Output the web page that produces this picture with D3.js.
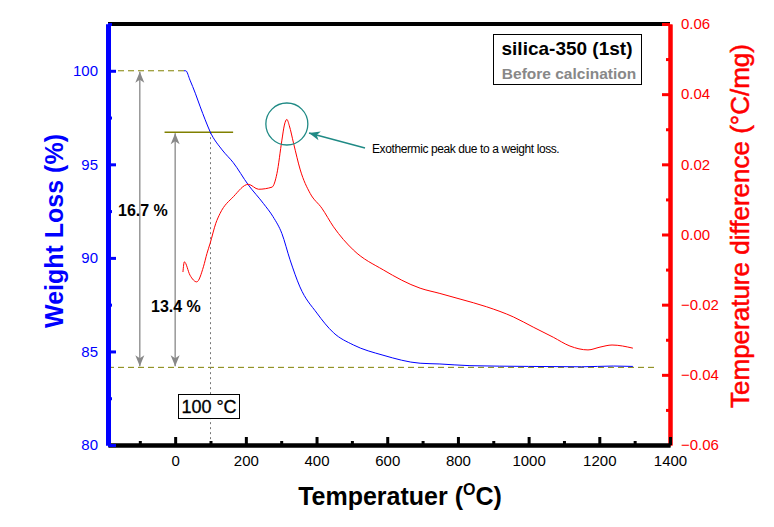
<!DOCTYPE html>
<html>
<head>
<meta charset="utf-8">
<script src="https://cdn.jsdelivr.net/npm/d3@7"></script>
<style>
body{margin:0;background:#fff;}
text{font-family:"Liberation Sans",Arial,sans-serif;}
</style>
</head>
<body>
<svg id="chart"></svg>
<script>
var width=774, height=527;
var mLeft=108, mRight=670, mTop=24, mBottom=445;

// TGA: weight loss (%) vs temperature
var tgaT=[25,30,42,57,71,85,99,133,164,207,250,277,302,325,353,401,448,504,588,693,749,834,1000,1150,1240,1295];
var tgaW=[100,100,99.5,98.8,98.07,97.38,96.74,95.77,95.1,93.9,92.9,92.2,91.3,89.9,88.45,87.05,86.0,85.35,84.8,84.37,84.33,84.24,84.2,84.18,84.22,84.2];

// DTA: temperature difference (C/mg) vs temperature
var dtaT=[22,26,42,61,80,90,99,115,127,165,207,236,274,288,302,309,316,323,335,354,382,415,448,504,589,693,749,806,881,957,1013,1070,1117,1168,1202,1236,1295];
var dtaD=[-0.0107,-0.0078,-0.0116,-0.0135,-0.0092,-0.0054,-0.0025,0.0032,0.006,0.0108,0.0143,0.0129,0.0135,0.0174,0.0269,0.0312,0.0328,0.031,0.026,0.0184,0.0117,0.0075,0.0022,-0.0044,-0.0101,-0.0153,-0.0168,-0.0184,-0.0206,-0.0235,-0.0264,-0.0293,-0.0318,-0.0329,-0.0321,-0.0315,-0.0324];

var xTicks=[0,200,400,600,800,1000,1200,1400];
var xMinor=[-100,100,300,500,700,900,1100,1300];
var yLTicks=[80,85,90,95,100];
var yLMinor=[82.5,87.5,92.5,97.5,102.5];
var yRTicks=[-0.06,-0.04,-0.02,0.00,0.02,0.04,0.06];
var yRMinor=[-0.05,-0.03,-0.01,0.01,0.03,0.05];

var wStart=100, wEnd=84.15, w100=96.72;

var svg=d3.select("#chart").attr("width",width).attr("height",height);

var x=d3.scaleLinear().domain([-190,1400]).range([mLeft,mRight]);
var yL=d3.scaleLinear().domain([80,102.5]).range([mBottom,mTop]);
var yR=d3.scaleLinear().domain([-0.06,0.06]).range([mBottom,mTop]);

//guide lines
svg.append("line")
  .attr("x1",mLeft).attr("x2",x(tgaT[0]))
  .attr("y1",yL(wStart)).attr("y2",yL(wStart))
  .attr("stroke","#808000").attr("stroke-width",1).attr("stroke-dasharray","6,4");
svg.append("line")
  .attr("x1",mLeft).attr("x2",655)
  .attr("y1",yL(wEnd)).attr("y2",yL(wEnd))
  .attr("stroke","#808000").attr("stroke-width",1).attr("stroke-dasharray","6,4");
svg.append("line")
  .attr("x1",x(-30)).attr("x2",x(164))
  .attr("y1",yL(w100)).attr("y2",yL(w100))
  .attr("stroke","#808000").attr("stroke-width",1.5);
svg.append("line")
  .attr("x1",x(100)).attr("x2",x(100))
  .attr("y1",yL(w100)).attr("y2",mBottom)
  .attr("stroke","#777").attr("stroke-width",1).attr("stroke-dasharray","2,3");

//arrow markers
var defs=svg.append("defs");
defs.append("marker").attr("id","gray").attr("viewBox","-12 -6 14 12")
  .attr("refX",0).attr("refY",0).attr("markerWidth",14).attr("markerHeight",12)
  .attr("markerUnits","userSpaceOnUse").attr("orient","auto-start-reverse")
  .append("path").attr("d","M0,0 L-11,-4.5 L-8,0 L-11,4.5 Z").attr("fill","#888");
defs.append("marker").attr("id","teal").attr("viewBox","-12 -6 14 12")
  .attr("refX",0).attr("refY",0).attr("markerWidth",14).attr("markerHeight",12)
  .attr("markerUnits","userSpaceOnUse").attr("orient","auto")
  .append("path").attr("d","M0,0 L-11,-4.5 L-8,0 L-11,4.5 Z").attr("fill","#1f8a85");

svg.append("line")
  .attr("x1",x(-100)).attr("x2",x(-100))
  .attr("y1",yL(wStart)+1).attr("y2",yL(wEnd)-1)
  .attr("stroke","#888").attr("stroke-width",1.3)
  .attr("marker-start","url(#gray)").attr("marker-end","url(#gray)");
svg.append("line")
  .attr("x1",x(0)).attr("x2",x(0))
  .attr("y1",yL(w100)+1).attr("y2",yL(wEnd)-1)
  .attr("stroke","#888").attr("stroke-width",1.3)
  .attr("marker-start","url(#gray)").attr("marker-end","url(#gray)");

svg.append("text").attr("x",118).attr("y",216)
  .attr("font-size",16).attr("font-weight","bold").attr("fill","#000").text("16.7 %");
svg.append("text").attr("x",151).attr("y",312)
  .attr("font-size",16).attr("font-weight","bold").attr("fill","#000").text("13.4 %");

//100 C box
svg.append("rect").attr("x",178.5).attr("y",394.5).attr("width",61).attr("height",24)
  .attr("fill","#fff").attr("stroke","#000").attr("stroke-width",1);
svg.append("text").attr("x",209).attr("y",413).attr("text-anchor","middle")
  .attr("font-size",18).attr("stroke","#000").attr("stroke-width",0.3)
  .attr("fill","#000").text("100 \u00B0C");

//curves
svg.append("path")
  .datum(d3.zip(tgaT,tgaW))
  .attr("fill","none").attr("stroke","#0000ff").attr("stroke-width",1)
  .attr("d",d3.line().curve(d3.curveMonotoneX)
    .x(function(d){return x(d[0]);})
    .y(function(d){return yL(d[1]);}));

svg.append("path")
  .datum(d3.zip(dtaT,dtaD))
  .attr("fill","none").attr("stroke","#ff0000").attr("stroke-width",1)
  .attr("d",d3.line().curve(d3.curveMonotoneX)
    .x(function(d){return x(d[0]);})
    .y(function(d){return yR(d[1]);}));

//peak annotation
svg.append("circle").attr("cx",x(316)).attr("cy",124).attr("r",21)
  .attr("fill","none").attr("stroke","#1f8a85").attr("stroke-width",1.3);
svg.append("line").attr("x1",365).attr("y1",148).attr("x2",309).attr("y2",133)
  .attr("stroke","#1f8a85").attr("stroke-width",1.3).attr("marker-end","url(#teal)");
svg.append("text").attr("x",372).attr("y",153)
  .attr("font-size",12).attr("letter-spacing","-0.4").attr("fill","#000")
  .text("Exothermic peak due to a weight loss.");

//legend box
svg.append("rect").attr("x",493.5).attr("y",34.5).attr("width",148).attr("height",50)
  .attr("fill","#fff").attr("stroke","#000").attr("stroke-width",1);
svg.append("text").attr("x",567).attr("y",55).attr("text-anchor","middle")
  .attr("font-size",19).attr("font-weight","bold").attr("fill","#000").text("silica-350 (1st)");
svg.append("text").attr("x",569).attr("y",79).attr("text-anchor","middle")
  .attr("font-size",15.5).attr("font-weight","bold").attr("fill","#888").text("Before calcination");

//top frame
svg.append("line").attr("x1",mLeft).attr("x2",mRight).attr("y1",mTop).attr("y2",mTop)
  .attr("stroke","#000").attr("stroke-width",4);

function styleAxis(g,color,w){
  g.select(".domain").attr("stroke",color).attr("stroke-width",w);
  g.selectAll(".tick line").attr("stroke",color).attr("stroke-width",3);
  g.selectAll(".tick text").attr("fill",color).attr("font-size",15)
    .attr("font-family","'Liberation Sans',Arial,sans-serif");
}

//right axis
var gR=svg.append("g").attr("transform","translate("+mRight+",0)")
  .call(d3.axisRight(yR).tickValues(yRTicks).tickSize(-8).tickSizeOuter(0).tickPadding(11)
    .tickFormat(d3.format(".2f")));
styleAxis(gR,"#ff0000",4);
var gRm=svg.append("g").attr("transform","translate("+mRight+",0)")
  .call(d3.axisRight(yR).tickValues(yRMinor).tickSize(-4).tickSizeOuter(0).tickFormat(""));
styleAxis(gRm,"#ff0000",4);

//bottom axis
var gX=svg.append("g").attr("transform","translate(0,"+mBottom+")")
  .call(d3.axisBottom(x).tickValues(xTicks).tickSize(-8).tickSizeOuter(0).tickPadding(10)
    .tickFormat(d3.format("d")));
styleAxis(gX,"#000",4);
var gXm=svg.append("g").attr("transform","translate(0,"+mBottom+")")
  .call(d3.axisBottom(x).tickValues(xMinor).tickSize(-4).tickSizeOuter(0).tickFormat(""));
styleAxis(gXm,"#000",4);

//left axis
var gL=svg.append("g").attr("transform","translate("+mLeft+",0)")
  .call(d3.axisLeft(yL).tickValues(yLTicks).tickSize(-8).tickSizeOuter(0).tickPadding(10));
styleAxis(gL,"#0000ff",5);
var gLm=svg.append("g").attr("transform","translate("+mLeft+",0)")
  .call(d3.axisLeft(yL).tickValues(yLMinor).tickSize(-4).tickSizeOuter(0).tickFormat(""));
styleAxis(gLm,"#0000ff",5);

//axis titles
svg.append("text").attr("transform","translate(63,231) rotate(-90)")
  .attr("text-anchor","middle").attr("font-size",25).attr("font-weight","bold")
  .attr("fill","#0000ff").text("Weight Loss (%)");
svg.append("text").attr("transform","translate(749,226) rotate(-90)")
  .attr("text-anchor","middle").attr("font-size",26).attr("stroke","#ff0000").attr("stroke-width",0.5)
  .attr("fill","#ff0000").text("Temperature difference (\u00B0C/mg)");
var xt=svg.append("text").attr("x",400).attr("y",505).attr("text-anchor","middle")
  .attr("font-size",25).attr("font-weight","bold").attr("fill","#000");
xt.append("tspan").text("Temperatuer (");
xt.append("tspan").attr("font-size",16).attr("dy",-10).text("O");
xt.append("tspan").attr("dy",10).text("C)");
</script>
</body>
</html>
